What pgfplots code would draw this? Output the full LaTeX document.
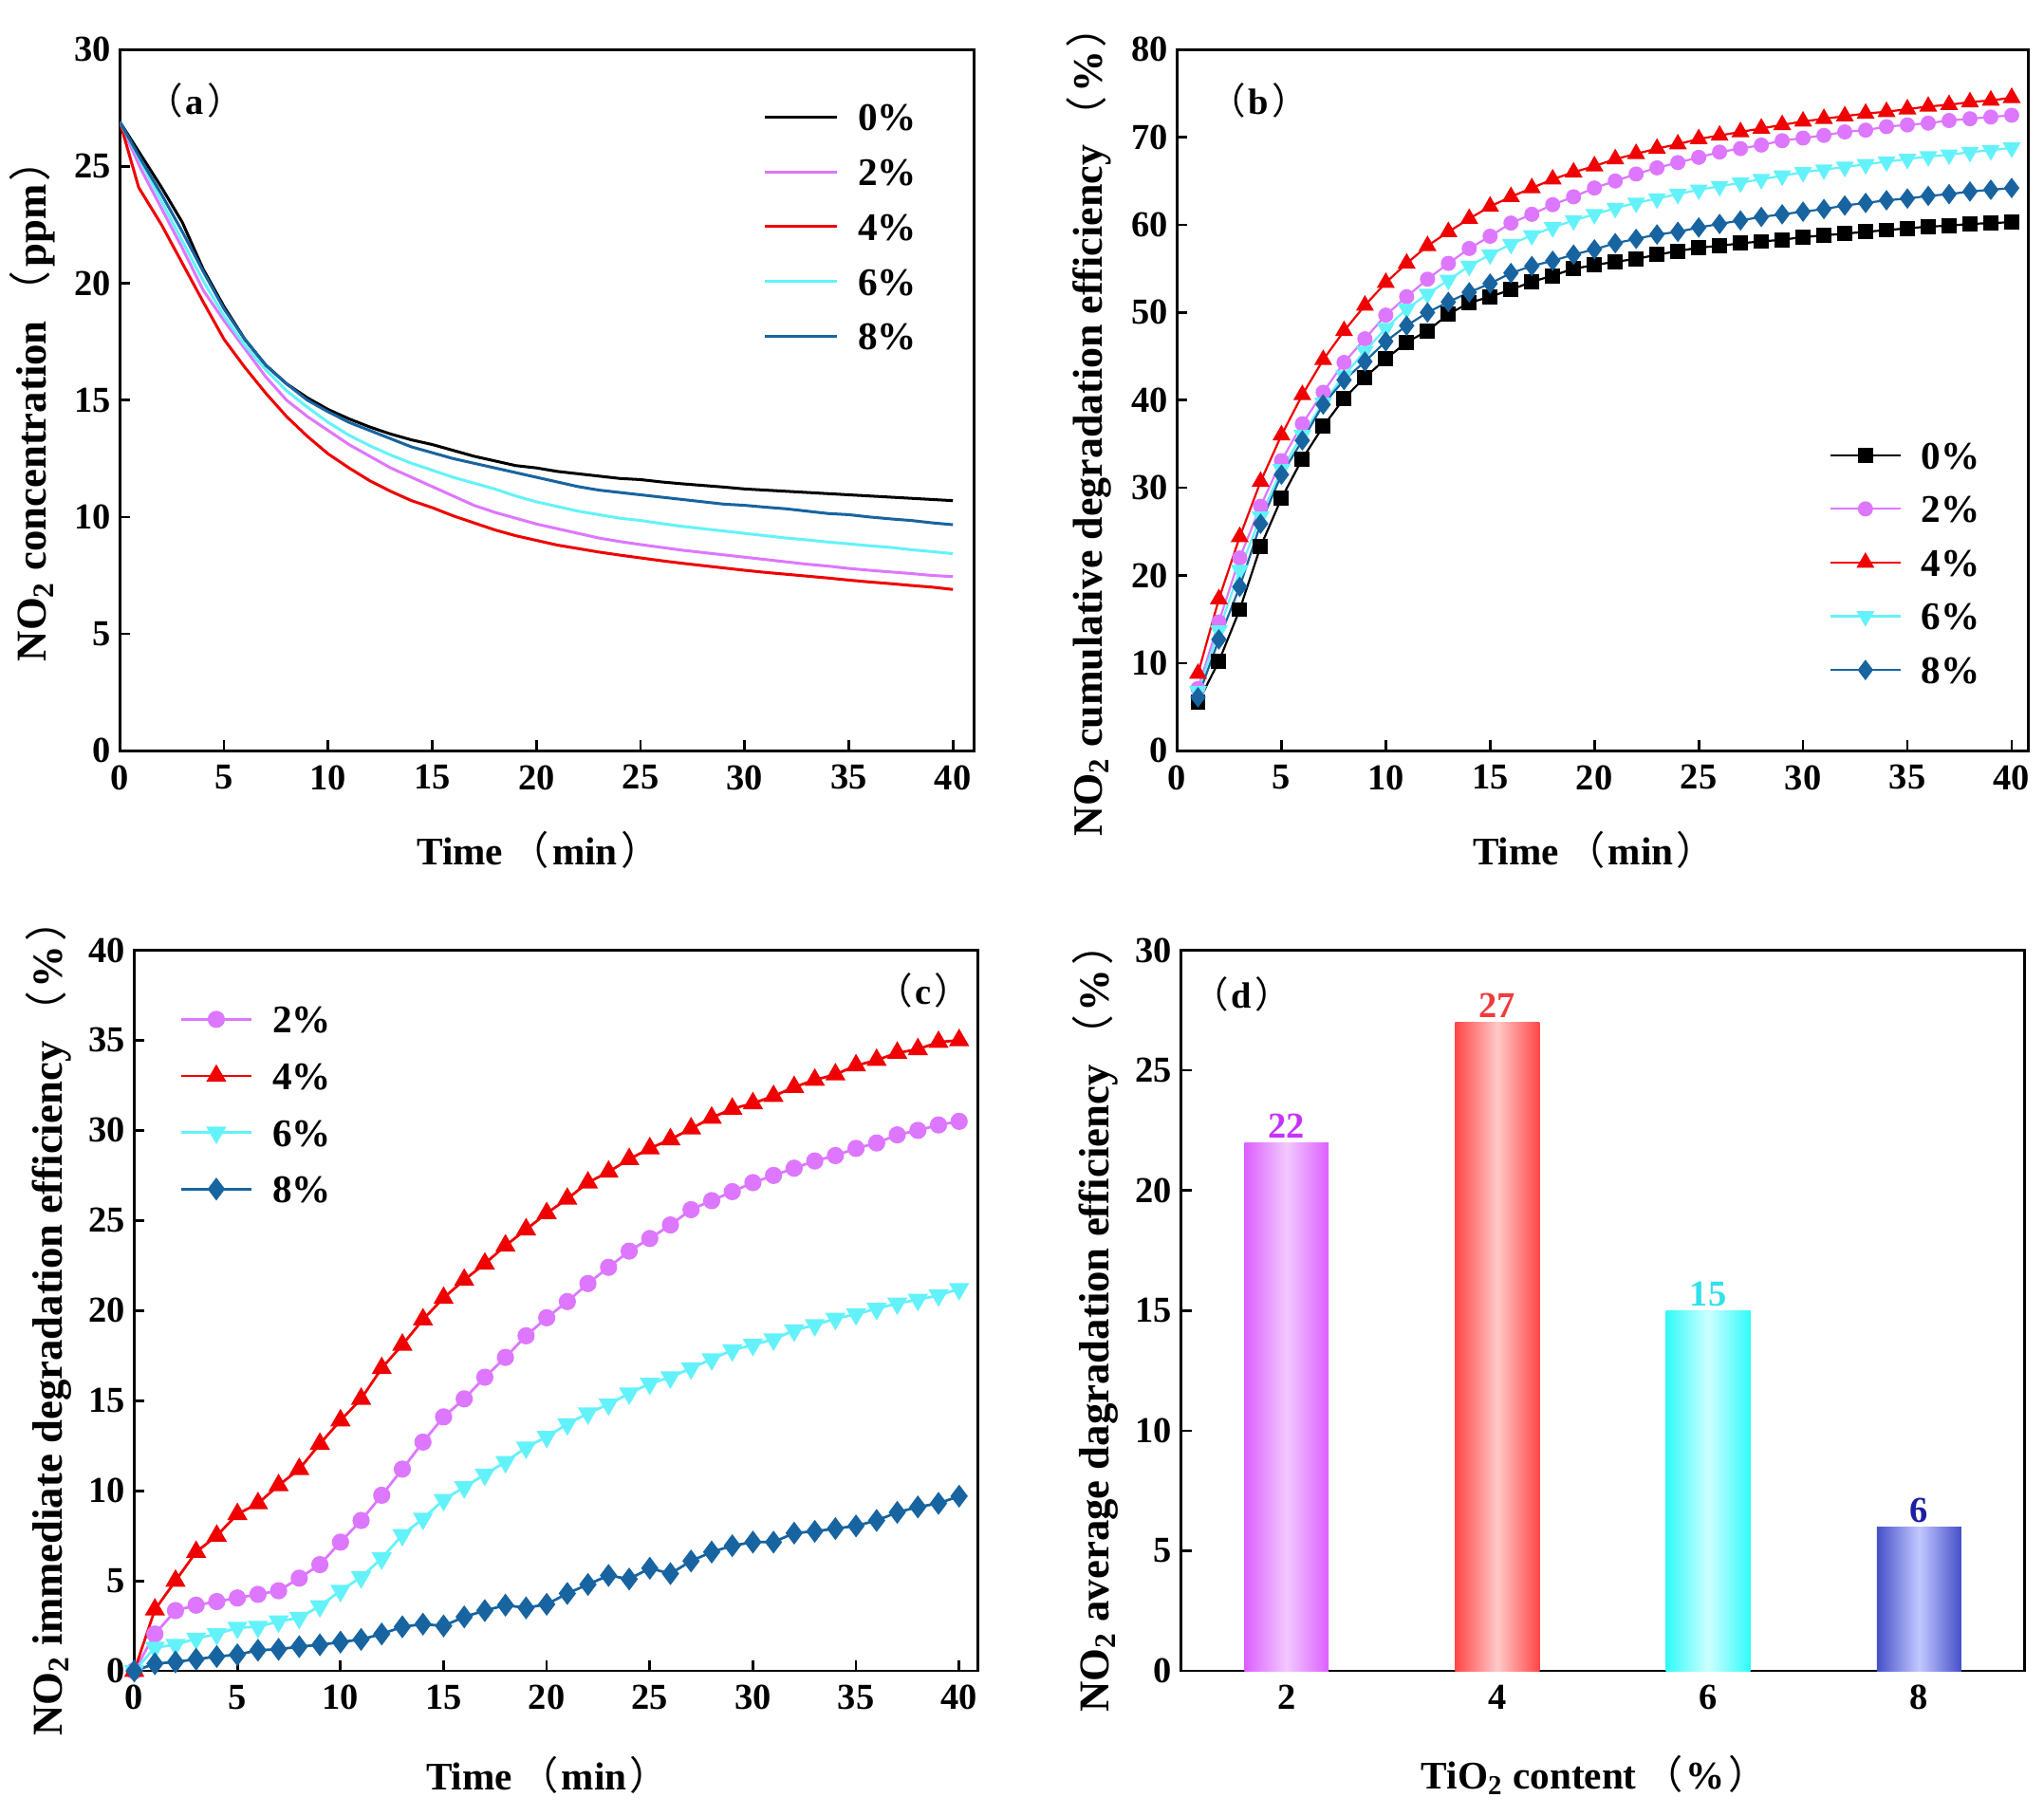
\documentclass[border=0pt]{standalone}
\usepackage{pgfplots}
\pgfplotsset{compat=1.18}
\usepackage{fontspec}
\setmainfont{Liberation Serif}
\newfontfamily\cjk{Noto Sans CJK SC}
\newcommand\lp{\hspace{0.18em}{\cjk\mdseries （}\hspace{0.08em}}
\newcommand\rp{\hspace{0.08em}{\cjk\mdseries ）}}
\definecolor{cpink}{RGB}{221,119,255}
\definecolor{cred}{RGB}{240,0,0}
\definecolor{ccyan}{RGB}{100,242,250}
\definecolor{cblue}{RGB}{24,100,160}
\definecolor{pinkE}{RGB}{220,95,255}
\definecolor{pinkC}{RGB}{242,200,255}
\definecolor{redE}{RGB}{255,70,70}
\definecolor{redC}{RGB}{255,200,200}
\definecolor{cyanE}{RGB}{50,250,250}
\definecolor{cyanC}{RGB}{205,255,255}
\definecolor{blueE}{RGB}{70,80,200}
\definecolor{blueC}{RGB}{195,200,255}
\definecolor{pinkL}{RGB}{200,50,255}
\definecolor{redL}{RGB}{240,60,60}
\definecolor{cyanL}{RGB}{50,225,235}
\definecolor{blueL}{RGB}{30,30,160}

\pgfplotsset{
  panel/.style={
    scale only axis, anchor=south west,
    axis line style={line width=1pt},
    tick align=inside, tick pos=left,
    major tick length=4pt,
    every tick/.style={black, line width=1pt},
    /pgf/number format/assume math mode=true,
    ticklabel style={font=\bfseries\fontsize{14}{14}\selectfont},
    xticklabel style={yshift=-2pt},
    ylabel style={font=\bfseries\fontsize{16.3}{16.3}\selectfont, rotate=0, anchor=center},
    xlabel style={font=\bfseries\fontsize{15}{15}\selectfont, anchor=center},
    legend style={draw=none, fill=none, inner sep=0pt, outer sep=0pt,
      column sep=7.5pt, font=\bfseries\fontsize{15}{15}\selectfont,
      nodes={inner sep=0pt, text height=10.5pt, text depth=0pt, anchor=west}},
    legend cell align=left,
  },
  mleg/.style={legend image code/.code={\draw[mark repeat=2,mark phase=2,##1] plot coordinates {(0pt,0pt) (13.5pt,0pt) (27pt,0pt)};}},
  lleg/.style={legend image code/.code={\draw[##1] (0pt,0pt) -- (27.5pt,0pt);}},
}

\begin{document}
\begin{tikzpicture}
\clip (0,0) rectangle (784pt,696.5pt);
\path[use as bounding box] (0,0) rectangle (784pt,696.5pt);

% ---------------- (a)
\begin{axis}[panel, lleg, at={(46pt,408.5pt)}, width=327.5pt, height=269pt,
  xmin=0, xmax=41, ymin=0, ymax=30,
  xtick={0,5,...,40}, ytick={0,5,...,30},
  xlabel={Time\lp min\rp}, ylabel={NO\textsubscript{2} concentration\lp ppm\rp},
  x label style={at={(axis description cs:0.49,-0.141)}},
  y label style={at={(axis description cs:-0.102,0.5)}},
  legend style={at={(axis description cs:0.754,0.923)}, anchor=north west, row sep=10.5pt},
]
\addplot[black, line width=1.1pt] coordinates {(0,26.9)(1,25.5)(2,24.1)(3,22.6)(4,20.6)(5,19.0)(6,17.6)(7,16.5)(8,15.7)(9,15.1)(10,14.6)(11,14.2)(12,13.85)(13,13.55)(14,13.3)(15,13.1)(16,12.85)(17,12.6)(18,12.4)(19,12.2)(20,12.1)(21,11.95)(22,11.85)(23,11.75)(24,11.65)(25,11.6)(26,11.5)(27,11.42)(28,11.35)(29,11.28)(30,11.2)(31,11.15)(32,11.1)(33,11.05)(34,11.0)(35,10.95)(36,10.9)(37,10.85)(38,10.8)(39,10.75)(40,10.7)};
\addlegendentry{0\%}
\addplot[cpink, line width=1.1pt] coordinates {(0,26.9)(1,24.9)(2,23.2)(3,21.5)(4,19.7)(5,18.4)(6,17.2)(7,16.0)(8,15.0)(9,14.3)(10,13.7)(11,13.1)(12,12.6)(13,12.1)(14,11.7)(15,11.3)(16,10.9)(17,10.5)(18,10.2)(19,9.95)(20,9.7)(21,9.5)(22,9.3)(23,9.1)(24,8.95)(25,8.82)(26,8.7)(27,8.58)(28,8.48)(29,8.38)(30,8.28)(31,8.18)(32,8.08)(33,7.98)(34,7.9)(35,7.8)(36,7.72)(37,7.65)(38,7.58)(39,7.5)(40,7.45)};
\addlegendentry{2\%}
\addplot[cred, line width=1.1pt] coordinates {(0,26.9)(0.9,24.1)(2,22.5)(3,20.85)(4,19.2)(5,17.6)(6,16.4)(7,15.3)(8,14.3)(9,13.45)(10,12.7)(11,12.1)(12,11.55)(13,11.1)(14,10.7)(15,10.4)(16,10.05)(17,9.75)(18,9.45)(19,9.2)(20,9.0)(21,8.8)(22,8.65)(23,8.5)(24,8.37)(25,8.25)(26,8.13)(27,8.02)(28,7.92)(29,7.82)(30,7.72)(31,7.63)(32,7.55)(33,7.47)(34,7.39)(35,7.3)(36,7.22)(37,7.15)(38,7.07)(39,7.0)(40,6.9)};
\addlegendentry{4\%}
\addplot[ccyan, line width=1.1pt] coordinates {(0,26.9)(1,25.2)(2,23.5)(3,21.8)(4,20.1)(5,18.6)(6,17.35)(7,16.3)(8,15.4)(9,14.7)(10,14.05)(11,13.5)(12,13.05)(13,12.65)(14,12.3)(15,12.0)(16,11.7)(17,11.45)(18,11.2)(19,10.9)(20,10.65)(21,10.45)(22,10.25)(23,10.1)(24,9.95)(25,9.85)(26,9.72)(27,9.6)(28,9.5)(29,9.4)(30,9.3)(31,9.2)(32,9.1)(33,9.02)(34,8.93)(35,8.85)(36,8.77)(37,8.7)(38,8.6)(39,8.52)(40,8.43)};
\addlegendentry{6\%}
\addplot[cblue, line width=1.1pt] coordinates {(0,26.9)(1,25.3)(2,23.8)(3,22.2)(4,20.5)(5,18.9)(6,17.6)(7,16.5)(8,15.7)(9,15.0)(10,14.5)(11,14.05)(12,13.7)(13,13.35)(14,13.0)(15,12.75)(16,12.5)(17,12.3)(18,12.1)(19,11.9)(20,11.7)(21,11.5)(22,11.3)(23,11.15)(24,11.05)(25,10.95)(26,10.85)(27,10.75)(28,10.65)(29,10.55)(30,10.5)(31,10.42)(32,10.35)(33,10.25)(34,10.15)(35,10.1)(36,10.0)(37,9.92)(38,9.85)(39,9.75)(40,9.67)};
\addlegendentry{8\%}
\node[font=\bfseries\fontsize{14}{14}\selectfont] at (axis description cs:0.084,0.927) {\lp a\rp};
\end{axis}

% ---------------- (b)
\begin{axis}[panel, mleg, at={(451.5pt,408.5pt)}, width=326.5pt, height=269pt,
  xmin=0, xmax=40.8, ymin=0, ymax=80,
  xtick={0,5,...,40}, ytick={0,10,...,80},
  xlabel={Time\lp min\rp}, ylabel={NO\textsubscript{2} cumulative degradation efficiency\lp \%\rp},
  x label style={at={(axis description cs:0.49,-0.141)}},
  y label style={at={(axis description cs:-0.104,0.47)}, font=\bfseries\fontsize{16}{16}\selectfont},
  legend style={at={(axis description cs:0.766,0.441)}, anchor=north west, row sep=10.1pt},
]
\addplot[black, line width=0.8pt, mark=square*, mark size=2.5pt] coordinates {(1,5.5)(2,10.2)(3,16.1)(4,23.3)(5,28.8)(6,33.3)(7,37.0)(8,40.2)(9,42.6)(10,44.7)(11,46.6)(12,47.9)(13,49.8)(14,51.1)(15,51.8)(16,52.6)(17,53.5)(18,54.2)(19,55.0)(20,55.4)(21,55.8)(22,56.1)(23,56.6)(24,57.0)(25,57.4)(26,57.6)(27,57.9)(28,58.1)(29,58.3)(30,58.6)(31,58.8)(32,59.0)(33,59.2)(34,59.4)(35,59.6)(36,59.8)(37,59.9)(38,60.1)(39,60.2)(40,60.3)};
\addlegendentry{0\%}
\addplot[cpink, line width=0.8pt, mark=*, mark size=2.5pt] coordinates {(1,7.1)(2,14.7)(3,22.0)(4,27.9)(5,33.1)(6,37.3)(7,40.9)(8,44.3)(9,47.0)(10,49.7)(11,51.8)(12,53.8)(13,55.6)(14,57.3)(15,58.7)(16,60.2)(17,61.2)(18,62.3)(19,63.2)(20,64.2)(21,65.0)(22,65.8)(23,66.5)(24,67.1)(25,67.7)(26,68.3)(27,68.7)(28,69.1)(29,69.6)(30,69.9)(31,70.2)(32,70.6)(33,70.8)(34,71.2)(35,71.4)(36,71.6)(37,71.9)(38,72.1)(39,72.3)(40,72.5)};
\addlegendentry{2\%}
\addplot[cred, line width=0.8pt, mark=triangle*, mark size=3.2pt] coordinates {(1,8.8)(2,17.3)(3,24.4)(4,30.7)(5,36.0)(6,40.6)(7,44.6)(8,47.9)(9,50.8)(10,53.4)(11,55.6)(12,57.6)(13,59.2)(14,60.7)(15,62.1)(16,63.2)(17,64.2)(18,65.2)(19,66.0)(20,66.7)(21,67.5)(22,68.1)(23,68.7)(24,69.2)(25,69.8)(26,70.2)(27,70.6)(28,71.0)(29,71.4)(30,71.8)(31,72.1)(32,72.4)(33,72.7)(34,72.9)(35,73.2)(36,73.5)(37,73.7)(38,74.0)(39,74.2)(40,74.5)};
\addlegendentry{4\%}
\addplot[ccyan, line width=0.8pt, mark=triangle*, mark size=3.2pt, mark options={rotate=180}] coordinates {(1,6.8)(2,13.7)(3,20.6)(4,26.7)(5,32.1)(6,36.0)(7,39.7)(8,42.8)(9,45.6)(10,48.2)(11,50.4)(12,52.1)(13,53.7)(14,55.3)(15,56.6)(16,57.8)(17,58.8)(18,59.7)(19,60.5)(20,61.2)(21,61.9)(22,62.5)(23,63.0)(24,63.5)(25,64.0)(26,64.4)(27,64.8)(28,65.2)(29,65.6)(30,66.0)(31,66.3)(32,66.6)(33,66.9)(34,67.2)(35,67.5)(36,67.8)(37,68.0)(38,68.3)(39,68.5)(40,68.8)};
\addlegendentry{6\%}
\addplot[cblue, line width=0.8pt, mark=diamond*, mark size=3.3pt] coordinates {(1,6.1)(2,12.7)(3,18.7)(4,25.9)(5,31.5)(6,35.4)(7,39.5)(8,42.3)(9,44.4)(10,46.7)(11,48.5)(12,50.0)(13,51.2)(14,52.3)(15,53.3)(16,54.5)(17,55.3)(18,55.9)(19,56.6)(20,57.2)(21,57.9)(22,58.4)(23,58.9)(24,59.2)(25,59.7)(26,60.1)(27,60.5)(28,60.9)(29,61.2)(30,61.5)(31,61.8)(32,62.2)(33,62.5)(34,62.8)(35,63.0)(36,63.3)(37,63.5)(38,63.8)(39,64.0)(40,64.2)};
\addlegendentry{8\%}
\node[font=\bfseries\fontsize{14}{14}\selectfont] at (axis description cs:0.092,0.927) {\lp b\rp};
\end{axis}

% ---------------- (c)
\begin{axis}[panel, mleg, at={(51.5pt,55.5pt)}, width=323.5pt, height=276.5pt,
  xmin=0, xmax=40.9, ymin=0, ymax=40,
  xtick={0,5,...,40}, ytick={0,5,...,40},
  xlabel={Time\lp min\rp}, ylabel={NO\textsubscript{2} immediate degradation efficiency\lp \%\rp},
  x label style={at={(axis description cs:0.49,-0.145)}},
  y label style={at={(axis description cs:-0.102,0.49)}},
  legend style={at={(axis description cs:0.054,0.923)}, anchor=north west, row sep=11.2pt},
]
\addplot[cpink, line width=1pt, mark=*, mark size=2.8pt] coordinates {(0,0)(1,2.05)(2,3.35)(3,3.65)(4,3.85)(5,4.05)(6,4.25)(7,4.45)(8,5.15)(9,5.9)(10,7.15)(11,8.35)(12,9.75)(13,11.2)(14,12.7)(15,14.1)(16,15.1)(17,16.3)(18,17.4)(19,18.6)(20,19.6)(21,20.5)(22,21.5)(23,22.4)(24,23.3)(25,24.0)(26,24.75)(27,25.6)(28,26.1)(29,26.6)(30,27.1)(31,27.5)(32,27.9)(33,28.3)(34,28.6)(35,29.0)(36,29.3)(37,29.75)(38,30.0)(39,30.3)(40,30.5)};
\addlegendentry{2\%}
\addplot[cred, line width=1pt, mark=triangle*, mark size=3.5pt] coordinates {(0,0)(1,3.4)(2,5.0)(3,6.6)(4,7.5)(5,8.7)(6,9.3)(7,10.3)(8,11.2)(9,12.6)(10,13.9)(11,15.1)(12,16.8)(13,18.1)(14,19.5)(15,20.7)(16,21.7)(17,22.6)(18,23.6)(19,24.5)(20,25.4)(21,26.2)(22,27.1)(23,27.7)(24,28.4)(25,29.0)(26,29.5)(27,30.1)(28,30.7)(29,31.2)(30,31.5)(31,31.9)(32,32.4)(33,32.8)(34,33.1)(35,33.6)(36,33.9)(37,34.3)(38,34.5)(39,34.9)(40,35.0)};
\addlegendentry{4\%}
\addplot[ccyan, line width=1pt, mark=triangle*, mark size=3.5pt, mark options={rotate=180}] coordinates {(0,0)(1,1.3)(2,1.45)(3,1.8)(4,2.05)(5,2.4)(6,2.45)(7,2.75)(8,2.95)(9,3.6)(10,4.45)(11,5.2)(12,6.25)(13,7.55)(14,8.45)(15,9.5)(16,10.2)(17,10.9)(18,11.6)(19,12.4)(20,13.0)(21,13.7)(22,14.3)(23,14.8)(24,15.4)(25,15.95)(26,16.3)(27,16.8)(28,17.3)(29,17.8)(30,18.1)(31,18.4)(32,18.9)(33,19.2)(34,19.55)(35,19.8)(36,20.1)(37,20.4)(38,20.6)(39,20.85)(40,21.2)};
\addlegendentry{6\%}
\addplot[cblue, line width=1pt, mark=diamond*, mark size=3.6pt] coordinates {(0,0)(1,0.4)(2,0.5)(3,0.65)(4,0.8)(5,0.9)(6,1.15)(7,1.2)(8,1.35)(9,1.45)(10,1.6)(11,1.75)(12,2.05)(13,2.45)(14,2.6)(15,2.5)(16,3.0)(17,3.35)(18,3.65)(19,3.5)(20,3.7)(21,4.3)(22,4.8)(23,5.3)(24,5.1)(25,5.7)(26,5.4)(27,6.1)(28,6.6)(29,6.95)(30,7.15)(31,7.15)(32,7.65)(33,7.75)(34,7.9)(35,8.05)(36,8.35)(37,8.8)(38,9.1)(39,9.3)(40,9.7)};
\addlegendentry{8\%}
\node[font=\bfseries\fontsize{14}{14}\selectfont] at (axis description cs:0.932,0.944) {\lp c\rp};
\end{axis}

% ---------------- (d)
\begin{axis}[panel, at={(453pt,55.5pt)}, width=323.5pt, height=276.5pt,
  xmin=1, xmax=9, ymin=0, ymax=30,
  xtick={2,4,6,8}, ytick={0,5,...,30},
  xtick style={draw=none},
  xlabel={TiO\textsubscript{2} content\lp \%\rp}, ylabel={NO\textsubscript{2} average dagradation efficiency\lp \%\rp},
  x label style={at={(axis description cs:0.49,-0.145)}},
  y label style={at={(axis description cs:-0.102,0.49)}},
  nodes near coords style={font=\bfseries\fontsize{14}{14}\selectfont, anchor=south, inner sep=1.5pt},
]
\addplot[ybar, bar width=0.8, bar shift=0pt, draw=none, left color=pinkE, right color=pinkE, middle color=pinkC, nodes near coords, nodes near coords style={text=pinkL}] coordinates {(2,22)};
\addplot[ybar, bar width=0.8, bar shift=0pt, draw=none, left color=redE, right color=redE, middle color=redC, nodes near coords, nodes near coords style={text=redL}] coordinates {(4,27)};
\addplot[ybar, bar width=0.8, bar shift=0pt, draw=none, left color=cyanE, right color=cyanE, middle color=cyanC, nodes near coords, nodes near coords style={text=cyanL}] coordinates {(6,15)};
\addplot[ybar, bar width=0.8, bar shift=0pt, draw=none, left color=blueE, right color=blueE, middle color=blueC, nodes near coords, nodes near coords style={text=blueL}] coordinates {(8,6)};
\node[font=\bfseries\fontsize{14}{14}\selectfont] at (axis description cs:0.068,0.939) {\lp d\rp};
\end{axis}
\end{tikzpicture}
\end{document}
